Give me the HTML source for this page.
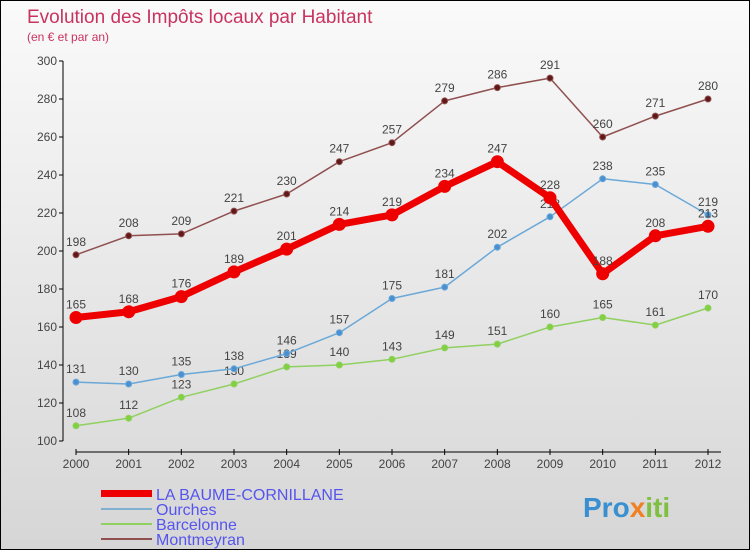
<!DOCTYPE html>
<html><head><meta charset="utf-8"><style>
body{margin:0}
#c{width:748px;height:548px;border:1px solid #000;background:linear-gradient(#fafafa,#d6d6d6);position:relative;overflow:hidden;font-family:"Liberation Sans",sans-serif}
</style></head><body>
<div id="c">
<svg id="s" width="748" height="548" xmlns="http://www.w3.org/2000/svg">
<text x="26" y="22" font-size="19" fill="#c8335f">Evolution des Impôts locaux par Habitant</text>
<text x="26" y="40" font-size="12" fill="#c8335f">(en € et par an)</text>
<g id="axes"></g><g id="series"></g>
<g>
<rect x="100" y="489" width="51" height="7" fill="#e00"/>
<text x="155" y="499" font-size="16" fill="#5555ee">LA BAUME-CORNILLANE</text>
<rect x="100" y="507" width="51" height="2" fill="#7fb0d0"/>
<text x="155" y="514" font-size="16" fill="#5555ee">Ourches</text>
<rect x="100" y="522" width="51" height="2" fill="#90d060"/>
<text x="155" y="529" font-size="16" fill="#5555ee">Barcelonne</text>
<rect x="100" y="537" width="51" height="2" fill="#905050"/>
<text x="155" y="544" font-size="16" fill="#5555ee">Montmeyran</text>
</g>
<text x="582" y="516" font-size="28" font-weight="bold" fill="#3a8fd0">Pro<tspan fill="#f08020">x</tspan><tspan fill="#80c040">iti</tspan></text>
</svg></div>
<script>
const years=[2000,2001,2002,2003,2004,2005,2006,2007,2008,2009,2010,2011,2012];
const yTicks=[100,120,140,160,180,200,220,240,260,280,300];
const baume=[165,168,176,189,201,214,219,234,247,228,188,208,213];
const ourches=[131,130,135,138,146,157,175,181,202,218,238,235,219];
const barcelonne=[108,112,123,130,139,140,143,149,151,160,165,161,170];
const montmeyran=[198,208,209,221,230,247,257,279,286,291,260,271,280];
const NS="http://www.w3.org/2000/svg";
const xs=i=>75+i*(632/12), ys=v=>440-(v-100)*1.9;
function mk(t,a,p){const e=document.createElementNS(NS,t);for(const k in a)e.setAttribute(k,a[k]);p.appendChild(e);return e;}
const ax=document.getElementById('axes'),se=document.getElementById('series');
let l=mk('line',{x1:62,y1:60,x2:62,y2:440,stroke:'#000'},ax);


yTicks.forEach(v=>{mk('line',{x1:58,x2:62,y1:ys(v),y2:ys(v),stroke:'#000'},ax);
 const t=mk('text',{x:56,y:ys(v)+4,'font-size':12,'text-anchor':'end',fill:'#444'},ax);t.textContent=v;
 
 });
l=mk('line',{x1:75,y1:451,x2:720,y2:451,stroke:'#000'},ax);


years.forEach((y,i)=>{mk('line',{x1:xs(i),x2:xs(i),y1:448,y2:454,stroke:'#000'},ax);
 const t=mk('text',{x:xs(i),y:467,'font-size':12,'text-anchor':'middle',fill:'#444'},ax);t.textContent=y;
 
 });
function draw(d,name,col,w,r,dot){
 const g=mk('g',{},se);
 
 
 const pl=mk('polyline',{points:d.map((v,i)=>xs(i)+','+ys(v)).join(' '),fill:'none',stroke:col,'stroke-width':w,'stroke-linejoin':'round'},g);
 
 
 d.forEach((v,i)=>{const c=mk('circle',{cx:xs(i),cy:ys(v),r:r,fill:dot,stroke:col,'stroke-width':1},g);
  
  
  const t=mk('text',{x:xs(i),y:ys(v)-9,'font-size':12,'text-anchor':'middle',fill:'#444'},g);t.textContent=v;
  
  });
}
draw(barcelonne,'barcelonne','#90d060',1.5,3,'#80d040');
draw(ourches,'ourches','#6aa8d8',1.5,3,'#4a90d0');
draw(montmeyran,'montmeyran','#905050',1.5,3,'#601818');
draw(baume,'baume','#ee0000',7,6,'#ee0000');
</script>
</body></html>
